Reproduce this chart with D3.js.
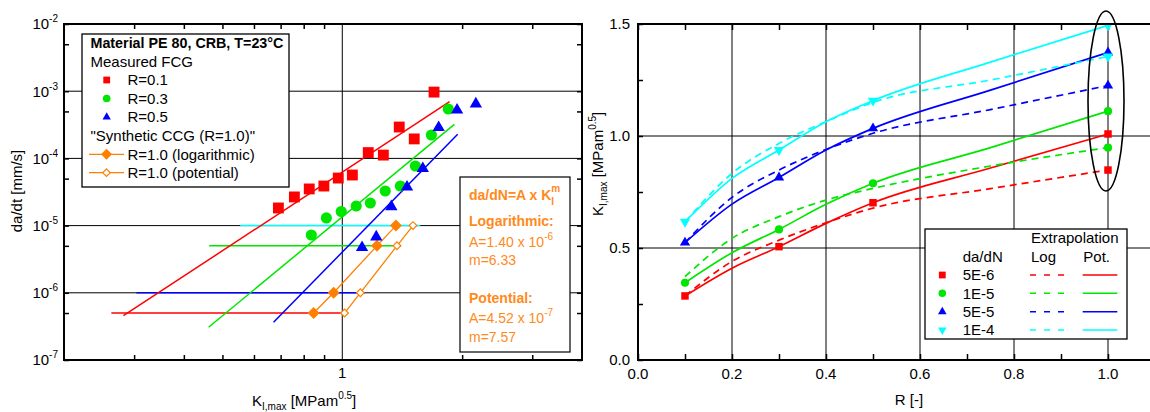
<!DOCTYPE html>
<html>
<head>
<meta charset="utf-8">
<script src="https://cdn.jsdelivr.net/npm/d3@7"></script>
<style>
  body { margin: 0; background: #fff; }
  svg text { font-family: "Liberation Sans", Arial, Helvetica, sans-serif; fill: #000; }
</style>
</head>
<body>
<div id="chart"></div>
<script>
// ---- left panel: da/dt over K_I,max ----
var kR01    = [0.691, 0.758, 0.826, 0.899, 0.977, 1.06, 1.162, 1.268, 1.39, 1.516, 1.70];
var rateR01 = [1.83e-5, 2.67e-5, 3.51e-5, 3.88e-5, 5.1e-5, 5.66e-5, 1.22e-4, 1.12e-4, 2.93e-4, 1.95e-4, 9.7e-4];
var kR03    = [0.836, 0.912, 0.994, 1.084, 1.176, 1.282, 1.399, 1.526, 1.674, 1.846];
var rateR03 = [7.24e-6, 1.30e-5, 1.62e-5, 1.96e-5, 2.17e-5, 3.27e-5, 3.88e-5, 7.7e-5, 2.23e-4, 5.43e-4];
var kR05    = [1.121, 1.217, 1.328, 1.454, 1.593, 1.746, 1.942, 2.165];
var rateR05 = [4.72e-6, 6.77e-6, 1.92e-5, 3.75e-5, 7.07e-5, 2.88e-4, 5.25e-4, 6.45e-4];

// fitted lines (end points)
var fitKR01 = [0.282, 1.86],  fitRateR01 = [4.56e-7, 6.98e-4];
var fitKR03 = [0.4615, 1.912], fitRateR03 = [3.07e-7, 3.21e-4];
var fitKR05 = [0.672, 1.949], fitRateR05 = [3.64e-7, 2.29e-4];

// constant rate levels
var levelRate  = [5e-7, 1e-6, 5e-6, 1e-5];
var levelKFrom = [0.263, 0.304, 0.463, 0.554];
var levelKTo   = [1.013, 1.138, 1.405, 1.57];

// synthetic CCG (R=1.0)
var synthRate = [5e-7, 1e-6, 5e-6, 1e-5];
var synthKLog = [0.847, 0.951, 1.222, 1.364];
var synthKPot = [1.013, 1.11, 1.372, 1.505];

// ---- right panel: K_I,max over R ----
var rMeasured = [0.1, 0.3, 0.5];
var kMeas5e6 = [0.286, 0.506, 0.702];
var kMeas1e5 = [0.345, 0.583, 0.789];
var kMeas5e5 = [0.524, 0.815, 1.034];
var kMeas1e4 = [0.617, 0.9375, 1.158];

var rCurve = [0.1, 0.2, 0.3, 0.4, 0.5, 0.75, 1.0];
var pot5e6 = [0.286, 0.41, 0.506, 0.61, 0.702, 0.857, 1.009];
var log5e6 = [0.286, 0.44, 0.535, 0.613, 0.678, 0.765, 0.848];
var pot1e5 = [0.345, 0.479, 0.583, 0.695, 0.789, 0.948, 1.111];
var log1e5 = [0.372, 0.543, 0.64, 0.714, 0.766, 0.866, 0.948];
var pot5e5 = [0.524, 0.696, 0.815, 0.9375, 1.034, 1.205, 1.373];
var log5e5 = [0.524, 0.726, 0.848, 0.94, 1.012, 1.118, 1.225];
var pot1e4 = [0.617, 0.811, 0.9375, 1.064, 1.158, 1.33, 1.494];
var log1e4 = [0.617, 0.833, 0.967, 1.064, 1.15, 1.25, 1.355];

var dadnLabels = ["5E-6", "1E-5", "5E-5", "1E-4"];

var red = "#ff0000", green = "#00e600", blue = "#0000ff", cyan = "#00ffff", orange = "#ff8000", orangeText = "#ff8a1c";

var svg = d3.select("#chart").append("svg").attr("width", 1150).attr("height", 412);

var xL = d3.scaleLog().domain([0.2, 4]).range([64, 582]);
var yL = d3.scaleLog().domain([1e-7, 1e-2]).range([360, 24]);
var xR = d3.scaleLinear().domain([0, 1.1]).range([638, 1155]);
var yR = d3.scaleLinear().domain([0, 1.5]).range([360, 24]);

function sym(type, size) { return d3.symbol().type(type).size(size)(); }

function markers(g, xs, ys, sx, sy, type, size, fill, rot, stroke) {
  g.selectAll(null).data(d3.zip(xs, ys)).enter().append("path")
    .attr("d", sym(type, size))
    .attr("transform", function(d) { return "translate(" + sx(d[0]) + "," + sy(d[1]) + ")" + (rot ? " rotate(" + rot + ")" : ""); })
    .attr("fill", fill)
    .attr("stroke", stroke || "none")
    .attr("stroke-width", stroke ? 1.2 : 0);
}

function tickAxis(g, axis, tr) {
  g.append("g").attr("transform", tr).call(axis)
    .call(function(a) { a.select(".domain").remove(); })
    .call(function(a) { a.selectAll(".tick line").attr("stroke-width", 1.5); });
}

// ================= LEFT PANEL =================
var gL = svg.append("g");

gL.selectAll(null).data([1e-6, 1e-5, 1e-4, 1e-3]).enter().append("line")
  .attr("x1", xL(0.2)).attr("x2", xL(4))
  .attr("y1", function(d) { return yL(d); }).attr("y2", function(d) { return yL(d); })
  .attr("stroke", "#000").attr("stroke-width", 1);
gL.append("line").attr("x1", xL(1)).attr("x2", xL(1)).attr("y1", yL(1e-7)).attr("y2", yL(1e-2))
  .attr("stroke", "#000").attr("stroke-width", 1);

var kMinor = [0.3, 0.4, 0.5, 0.6, 0.7, 0.8, 0.9, 2, 3];
var rateMinor = [5e-7, 5e-6, 5e-5, 5e-4, 5e-3];
var decades = [1e-7, 1e-6, 1e-5, 1e-4, 1e-3, 1e-2];
tickAxis(gL, d3.axisBottom(xL).tickValues(kMinor).tickSize(-5).tickFormat(""), "translate(0,360)");
tickAxis(gL, d3.axisTop(xL).tickValues(kMinor).tickSize(-5).tickFormat(""), "translate(0,24)");
tickAxis(gL, d3.axisLeft(yL).tickValues(decades.concat(rateMinor)).tickSize(-5).tickFormat(""), "translate(64,0)");
tickAxis(gL, d3.axisRight(yL).tickValues(decades.concat(rateMinor)).tickSize(-5).tickFormat(""), "translate(582,0)");

// constant-rate horizontal lines
var levelColor = [red, blue, green, cyan];
levelRate.forEach(function(r, i) {
  gL.append("path")
    .attr("d", d3.line().x(function(d) { return xL(d); }).y(yL(r))([levelKFrom[i], levelKTo[i]]))
    .attr("stroke", levelColor[i]).attr("stroke-width", 1.5).attr("fill", "none");
});

// fit lines
[[fitKR01, fitRateR01, red], [fitKR03, fitRateR03, green], [fitKR05, fitRateR05, blue]].forEach(function(f) {
  gL.append("path")
    .attr("d", d3.line().x(function(d) { return xL(d[0]); }).y(function(d) { return yL(d[1]); })(d3.zip(f[0], f[1])))
    .attr("stroke", f[2]).attr("stroke-width", 1.5).attr("fill", "none");
});

// synthetic curves
var lineKR = d3.line().x(function(d) { return xL(d[0]); }).y(function(d) { return yL(d[1]); });
gL.append("path").attr("d", lineKR(d3.zip(synthKLog, synthRate))).attr("stroke", orange).attr("stroke-width", 1.3).attr("fill", "none");
gL.append("path").attr("d", lineKR(d3.zip(synthKPot, synthRate))).attr("stroke", orange).attr("stroke-width", 1.3).attr("fill", "none");
markers(gL, synthKLog, synthRate, xL, yL, d3.symbolSquare, 72, orange, 45);
markers(gL, synthKPot, synthRate, xL, yL, d3.symbolSquare, 30, "#fff", 45, orange);

// measured points
markers(gL, kR01, rateR01, xL, yL, d3.symbolSquare, 118, red);
markers(gL, kR03, rateR03, xL, yL, d3.symbolCircle, 98, green);
markers(gL, kR05, rateR05, xL, yL, d3.symbolTriangle, 66, blue);

// frame
gL.append("rect").attr("x", 64).attr("y", 24).attr("width", 518).attr("height", 336)
  .attr("fill", "none").attr("stroke", "#000").attr("stroke-width", 2);

// tick labels
gL.selectAll(null).data(decades).enter().append("text")
  .attr("x", 58).attr("y", function(d) { return yL(d) + 5.3; })
  .attr("text-anchor", "end").attr("font-size", 15)
  .text("10")
  .append("tspan").attr("dy", -7).attr("font-size", 10)
  .text(function(d) { return Math.round(Math.log10(d)); });
gL.append("text").attr("x", xL(1)).attr("y", 378).attr("text-anchor", "middle").attr("font-size", 15).text("1");

// axis titles
var xt = gL.append("text").attr("x", 252).attr("y", 406).attr("font-size", 15).text("K");
xt.append("tspan").attr("dy", 4).attr("font-size", 10).text("I,max");
xt.append("tspan").attr("dy", -4).text(" [MPam");
xt.append("tspan").attr("dy", -7).attr("font-size", 10).text("0.5");
xt.append("tspan").attr("dy", 7).text("]");
gL.append("text").attr("transform", "translate(22,191) rotate(-90)")
  .attr("text-anchor", "middle").attr("font-size", 15).text("da/dt [mm/s]");

// legend
var lg = gL.append("g");
lg.append("rect").attr("x", 82).attr("y", 34).attr("width", 207).attr("height", 153)
  .attr("fill", "#fff").attr("stroke", "#000").attr("stroke-width", 1.3);
lg.append("text").attr("x", 90.5).attr("y", 48.3).attr("font-size", 14.3).attr("font-weight", "bold").text("Material PE 80, CRB, T=23°C");
lg.append("text").attr("x", 90.5).attr("y", 66.7).attr("font-size", 15).text("Measured FCG");
var legRows = [["R=0.1", 80, d3.symbolSquare, 46, red], ["R=0.3", 98.5, d3.symbolCircle, 46, green], ["R=0.5", 117, d3.symbolTriangle, 30, blue]];
legRows.forEach(function(r) {
  lg.append("path").attr("d", sym(r[2], r[3])).attr("transform", "translate(106.7," + r[1] + ")").attr("fill", r[4]);
  lg.append("text").attr("x", 127.5).attr("y", r[1] + 5.3).attr("font-size", 15).text(r[0]);
});
lg.append("text").attr("x", 90.5).attr("y", 141).attr("font-size", 15).text("\"Synthetic CCG (R=1.0)\"");
[["R=1.0 (logarithmic)", 154.3, true], ["R=1.0 (potential)", 172.7, false]].forEach(function(r) {
  lg.append("line").attr("x1", 89).attr("x2", 124).attr("y1", r[1]).attr("y2", r[1]).attr("stroke", orange).attr("stroke-width", 1.3);
  lg.append("path").attr("d", sym(d3.symbolSquare, r[2] ? 60 : 28))
    .attr("transform", "translate(106.5," + r[1] + ") rotate(45)")
    .attr("fill", r[2] ? orange : "#fff").attr("stroke", r[2] ? "none" : orange).attr("stroke-width", 1.2);
  lg.append("text").attr("x", 127.5).attr("y", r[1] + 5.3).attr("font-size", 15).text(r[0]);
});

// annotation box
var ab = gL.append("g");
ab.append("rect").attr("x", 460).attr("y", 177).attr("width", 110).attr("height", 175)
  .attr("fill", "#fff").attr("stroke", "#000").attr("stroke-width", 1.2);
var t1 = ab.append("text").attr("x", 469).attr("y", 200).attr("font-size", 14).attr("font-weight", "bold").style("fill", orangeText).text("da/dN=A x K");
t1.append("tspan").attr("dy", 5).attr("font-size", 10).text("I");
t1.append("tspan").attr("dx", -3).attr("dy", -13).attr("font-size", 10).text("m");
ab.append("text").attr("x", 469).attr("y", 226).attr("font-size", 14).attr("font-weight", "bold").style("fill", orangeText).text("Logarithmic:");
var t2 = ab.append("text").attr("x", 469).attr("y", 246.7).attr("font-size", 14).style("fill", orangeText).text("A=1.40 x 10");
t2.append("tspan").attr("dy", -7).attr("font-size", 10).text("-6");
ab.append("text").attr("x", 469).attr("y", 265).attr("font-size", 14).style("fill", orangeText).text("m=6.33");
ab.append("text").attr("x", 469).attr("y", 302.7).attr("font-size", 14).attr("font-weight", "bold").style("fill", orangeText).text("Potential:");
var t3 = ab.append("text").attr("x", 469).attr("y", 323.3).attr("font-size", 14).style("fill", orangeText).text("A=4.52 x 10");
t3.append("tspan").attr("dy", -7).attr("font-size", 10).text("-7");
ab.append("text").attr("x", 469).attr("y", 341.7).attr("font-size", 14).style("fill", orangeText).text("m=7.57");

// ================= RIGHT PANEL =================
var gR = svg.append("g");
svg.append("defs").append("clipPath").attr("id", "clipR")
  .append("rect").attr("x", 638).attr("y", 24).attr("width", 517).attr("height", 336);

gR.selectAll(null).data([0.2, 0.4, 0.6, 0.8, 1.0]).enter().append("line")
  .attr("x1", function(d) { return xR(d); }).attr("x2", function(d) { return xR(d); })
  .attr("y1", yR(0)).attr("y2", yR(1.5)).attr("stroke", "#000").attr("stroke-width", 1);
gR.selectAll(null).data([0.5, 1.0]).enter().append("line")
  .attr("x1", xR(0)).attr("x2", 1150)
  .attr("y1", function(d) { return yR(d); }).attr("y2", function(d) { return yR(d); })
  .attr("stroke", "#000").attr("stroke-width", 1);

var rTicks = [0, 0.1, 0.2, 0.3, 0.4, 0.5, 0.6, 0.7, 0.8, 0.9, 1.0];
var kTicks = [0, 0.25, 0.5, 0.75, 1.0, 1.25, 1.5];
tickAxis(gR, d3.axisBottom(xR).tickValues(rTicks).tickSize(-6).tickFormat(""), "translate(0,360)");
tickAxis(gR, d3.axisTop(xR).tickValues(rTicks).tickSize(-6).tickFormat(""), "translate(0,24)");
tickAxis(gR, d3.axisLeft(yR).tickValues(kTicks).tickSize(-5).tickFormat(""), "translate(638,0)");

var plotR = gR.append("g").attr("clip-path", "url(#clipR)");
var curveR = d3.line().x(function(d) { return xR(d[0]); }).y(function(d) { return yR(d[1]); }).curve(d3.curveMonotoneX);
var seriesR = [
  { meas: kMeas5e6, pot: pot5e6, log: log5e6, color: red,   type: d3.symbolSquare,   size: 56, rot: 0 },
  { meas: kMeas1e5, pot: pot1e5, log: log1e5, color: green, type: d3.symbolCircle,   size: 52, rot: 0 },
  { meas: kMeas5e5, pot: pot5e5, log: log5e5, color: blue,  type: d3.symbolTriangle, size: 46, rot: 0 },
  { meas: kMeas1e4, pot: pot1e4, log: log1e4, color: cyan,  type: d3.symbolTriangle, size: 46, rot: 180 }
];
seriesR.forEach(function(s) {
  plotR.append("path").attr("d", curveR(d3.zip(rCurve, s.log))).attr("fill", "none")
    .attr("stroke", s.color).attr("stroke-width", 1.7).attr("stroke-dasharray", "7,5");
  plotR.append("path").attr("d", curveR(d3.zip(rCurve, s.pot))).attr("fill", "none")
    .attr("stroke", s.color).attr("stroke-width", 1.7);
});
seriesR.forEach(function(s) {
  var rs = rMeasured.concat([1.0, 1.0]);
  var ks = s.meas.concat([s.pot[s.pot.length - 1], s.log[s.log.length - 1]]);
  markers(plotR, rs, ks, xR, yR, s.type, s.size, s.color, s.rot);
});

// ellipse around R=1.0 values
gR.append("ellipse").attr("cx", 1106).attr("cy", 101).attr("rx", 18).attr("ry", 90)
  .attr("fill", "none").attr("stroke", "#000").attr("stroke-width", 1.6);

// frame
gR.append("rect").attr("x", 638).attr("y", 24).attr("width", 517).attr("height", 336)
  .attr("fill", "none").attr("stroke", "#000").attr("stroke-width", 2);

// tick labels
gR.selectAll(null).data([0, 0.2, 0.4, 0.6, 0.8, 1.0]).enter().append("text")
  .attr("x", function(d) { return xR(d); }).attr("y", 379).attr("text-anchor", "middle").attr("font-size", 15)
  .text(d3.format(".1f"));
gR.selectAll(null).data([0, 0.5, 1.0, 1.5]).enter().append("text")
  .attr("x", 630).attr("y", function(d) { return yR(d) + 5.3; }).attr("text-anchor", "end").attr("font-size", 15)
  .text(d3.format(".1f"));

// titles
gR.append("text").attr("x", 909).attr("y", 405).attr("text-anchor", "middle").attr("font-size", 15).text("R [-]");
var yt = gR.append("text").attr("transform", "translate(603,216) rotate(-90)").attr("font-size", 15).text("K");
yt.append("tspan").attr("dy", 4).attr("font-size", 10).text("I,max");
yt.append("tspan").attr("dy", -4).text(" [MPam");
yt.append("tspan").attr("dy", -7).attr("font-size", 10).text("0.5");
yt.append("tspan").attr("dy", 7).text("]");

// legend
var lr = gR.append("g");
lr.append("rect").attr("x", 925).attr("y", 229).attr("width", 202).attr("height", 110)
  .attr("fill", "#fff").attr("stroke", "#000").attr("stroke-width", 1.3);
lr.append("text").attr("x", 1031).attr("y", 243.3).attr("font-size", 15).text("Extrapolation");
lr.append("text").attr("x", 962.7).attr("y", 262.3).attr("font-size", 15).text("da/dN");
lr.append("text").attr("x", 1031).attr("y", 262.3).attr("font-size", 15).text("Log");
lr.append("text").attr("x", 1083.3).attr("y", 262.3).attr("font-size", 15).text("Pot.");
var legY = [275, 293.3, 311.7, 330];
seriesR.forEach(function(s, i) {
  var y = legY[i];
  lr.append("path").attr("d", sym(s.type, s.type === d3.symbolCircle ? 44 : (s.type === d3.symbolSquare ? 46 : 32)))
    .attr("transform", "translate(942.3," + y + ")" + (s.rot ? " rotate(" + s.rot + ")" : "")).attr("fill", s.color);
  lr.append("text").attr("x", 962.7).attr("y", y + 5.3).attr("font-size", 15).text(dadnLabels[i]);
  lr.append("line").attr("x1", 1030).attr("x2", 1065).attr("y1", y).attr("y2", y)
    .attr("stroke", s.color).attr("stroke-width", 1.6).attr("stroke-dasharray", "6,8");
  lr.append("line").attr("x1", 1082.7).attr("x2", 1117.3).attr("y1", y).attr("y2", y)
    .attr("stroke", s.color).attr("stroke-width", 1.6);
});
</script>
</body>
</html>
